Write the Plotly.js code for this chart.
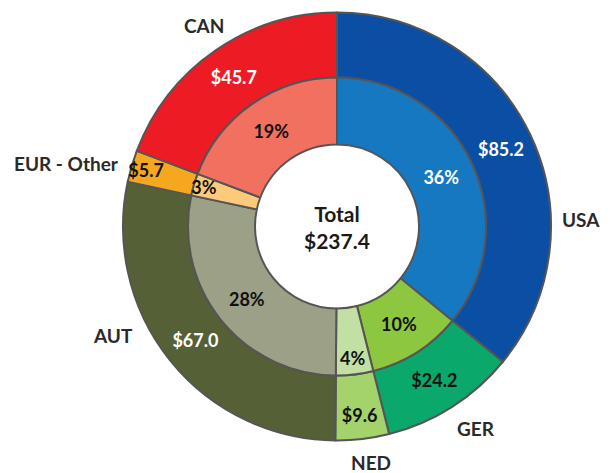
<!DOCTYPE html>
<html>
<head>
<meta charset="utf-8">
<script src="https://cdn.plot.ly/plotly-3.0.1.min.js"></script>
<style>
html,body{margin:0;padding:0;background:#fff;}
#chart{width:610px;height:473px;}
</style>
</head>
<body>
<div id="chart"></div>
<script>
// ---- data ----
const categories = ['USA', 'GER', 'NED', 'AUT', 'EUR - Other', 'CAN'];
const values = [85.2, 24.2, 9.6, 67.0, 5.7, 45.7];
const valueLabels = ['$85.2', '$24.2', '$9.6', '$67.0', '$5.7', '$45.7'];
const percentLabels = ['36%', '10%', '4%', '28%', '3%', '19%'];
const totalLabel = ['Total', '$237.4'];

// ---- styles ----
const outerColors = ['#0a4fa4', '#0aa86b', '#a4d36b', '#566037', '#f5a81f', '#ed1c24'];
const innerColors = ['#1778c2', '#8dc63f', '#c3e0a4', '#9ca087', '#fdca7c', '#f27060'];
const outerTextColors = ['#ffffff', '#111111', '#111111', '#ffffff', '#111111', '#ffffff'];
const innerTextColors = ['#ffffff', '#111111', '#111111', '#111111', '#111111', '#111111'];

const W = 610, H = 473;
const cx = 337, cy = 226.5;
const rOuter = 214, rMid = 149, rHole = 82;
function dom(r) {
  return {
    x: [(cx - r) / W, (cx + r) / W],
    y: [1 - (cy + r) / H, 1 - (cy - r) / H]
  };
}
const FONT = 'Lato, "Open Sans", sans-serif';

const outer = {
  type: 'pie',
  labels: categories,
  values: values,
  text: valueLabels,
  textinfo: 'text',
  textposition: 'inside',
  insidetextorientation: 'horizontal',
  insidetextfont: {family: FONT, size: 18, weight: 700, color: outerTextColors},
  sort: false,
  direction: 'clockwise',
  rotation: 0,
  hole: rMid / rOuter,
  domain: dom(rOuter),
  marker: {colors: outerColors, line: {color: '#555555', width: 2}},
  hoverinfo: 'skip',
  showlegend: false
};
const inner = {
  type: 'pie',
  labels: categories,
  values: values,
  text: percentLabels,
  textinfo: 'text',
  textposition: 'inside',
  insidetextorientation: 'horizontal',
  insidetextfont: {family: FONT, size: 18, weight: 700, color: innerTextColors},
  sort: false,
  direction: 'clockwise',
  rotation: 0,
  hole: rHole / rMid,
  domain: dom(rMid),
  marker: {colors: innerColors, line: {color: '#555555', width: 2}},
  hoverinfo: 'skip',
  showlegend: false
};

const labelPos = [[581, 220], [476, 428], [371, 462], [113, 335], [66, 163], [204, 26]];
const annotations = categories.map((c, i) => ({
  x: labelPos[i][0] / W, y: 1 - labelPos[i][1] / H,
  xref: 'paper', yref: 'paper', showarrow: false,
  text: c, font: {family: FONT, size: 19, weight: 700, color: '#2a2a2a'},
  xanchor: 'center', yanchor: 'middle'
}));
annotations.push({
  x: cx / W, y: 1 - cy / H, xref: 'paper', yref: 'paper', showarrow: false,
  text: totalLabel.join('<br>'), font: {family: FONT, size: 21, weight: 700, color: '#1a1a1a'},
  xanchor: 'center', yanchor: 'middle'
});

const layout = {
  width: W, height: H,
  margin: {l: 0, r: 0, t: 0, b: 0},
  paper_bgcolor: '#ffffff',
  plot_bgcolor: '#ffffff',
  showlegend: false,
  uniformtext: {mode: 'show', minsize: 18},
  annotations: annotations
};

Plotly.newPlot('chart', [outer, inner], layout, {displayModeBar: false, staticPlot: true});
</script>
</body>
</html>
